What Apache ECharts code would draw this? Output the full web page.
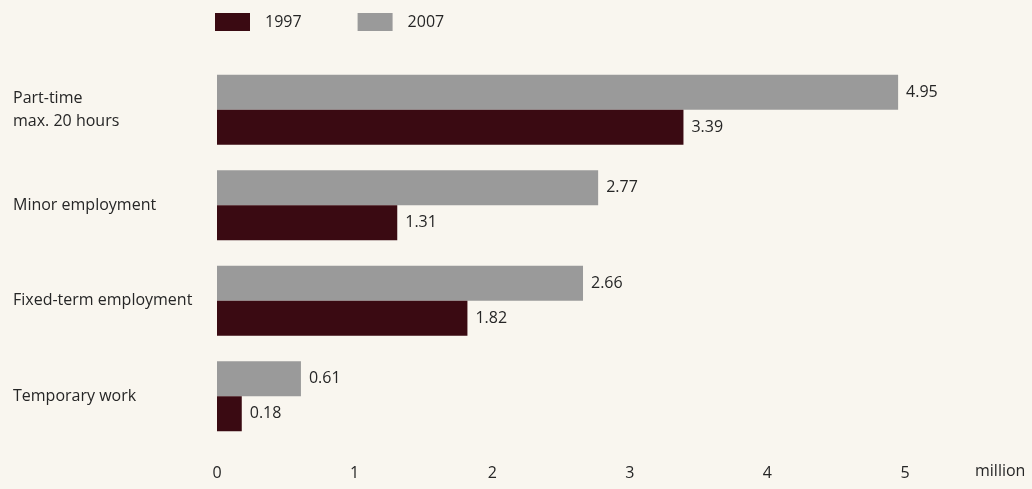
<!DOCTYPE html>
<html>
<head>
<meta charset="utf-8">
<script src="https://cdn.jsdelivr.net/npm/echarts@6/dist/echarts.min.js"></script>
<style>
  html, body { margin: 0; padding: 0; background: #f9f6ef; }
  #chart { width: 1032px; height: 489px; }
</style>
</head>
<body>
<div id="chart"></div>
<script>
// Employment forms, in millions
const categories = ['Part-time\nmax. 20 hours', 'Minor employment', 'Fixed-term employment', 'Temporary work'];
const values1997 = [3.39, 1.31, 1.82, 0.18];
const values2007 = [4.95, 2.77, 2.66, 0.61];
const xTicks = [0, 1, 2, 3, 4, 5];
const unitLabel = 'million';

const FONT = '"Open Sans", "Noto Sans", sans-serif';
const TEXT = '#262626';

const valueLabel = {
  show: true,
  position: 'right',
  distance: 8,
  fontFamily: FONT,
  fontSize: 16,
  color: TEXT,
  formatter: p => p.value.toFixed(2)
};

const chart = echarts.init(document.getElementById('chart'), null, { renderer: 'canvas' });
chart.setOption({
  backgroundColor: '#f9f6ef',
  animation: false,
  legend: {
    left: 210,
    top: 8,
    itemWidth: 35,
    itemHeight: 18,
    itemGap: 56,
    icon: 'rect',
    data: ['1997', '2007'],
    textStyle: { fontFamily: FONT, fontSize: 16, color: TEXT, padding: [0, 0, 0, 10] }
  },
  grid: { left: 217, right: 127, top: 62, bottom: 45, containLabel: false },
  xAxis: {
    type: 'value',
    min: xTicks[0],
    max: xTicks[xTicks.length - 1],
    interval: 1,
    axisLine: { show: false },
    axisTick: { show: false },
    splitLine: { show: false },
    axisLabel: { margin: 21, fontFamily: FONT, fontSize: 16, color: TEXT }
  },
  yAxis: {
    type: 'category',
    inverse: true,
    data: categories,
    axisLine: { show: false },
    axisTick: { show: false },
    axisLabel: {
      align: 'left',
      margin: 204,
      fontFamily: FONT,
      fontSize: 16,
      lineHeight: 23,
      color: TEXT
    }
  },
  graphic: [{
    type: 'text',
    left: 975,
    top: 463,
    style: { text: unitLabel, fontFamily: FONT, fontSize: 16, fill: TEXT }
  }],
  series: [
    {
      name: '2007',
      type: 'bar',
      data: values2007,
      barWidth: 35,
      barGap: '0%',
      itemStyle: { color: '#9a9a9a' },
      label: valueLabel
    },
    {
      name: '1997',
      type: 'bar',
      data: values1997,
      barWidth: 35,
      barGap: '0%',
      itemStyle: { color: '#3a0a12' },
      label: valueLabel
    }
  ]
});
</script>
</body>
</html>
